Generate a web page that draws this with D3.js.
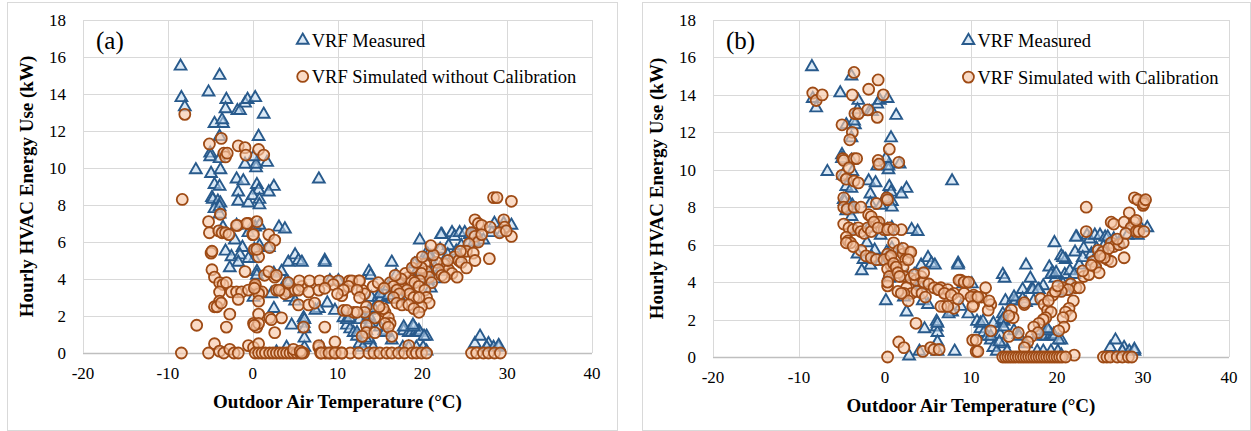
<!DOCTYPE html>
<html>
<head>
<meta charset="utf-8">
<script src="https://d3js.org/d3.v7.min.js"></script>
<style>
  body { margin: 0; background: #fff; }
</style>
</head>
<body>
<div id="chart"></div>
<script>
// axis ticks
const xTicks = [-20, -10, 0, 10, 20, 30, 40];
const yTicks = [0, 2, 4, 6, 8, 10, 12, 14, 16, 18];

// VRF measured (same in both panels): [outdoor temp °C, kW]
const measured = [
  [-8.5,15.5],[-3.9,15.0],[-8.4,13.8],[-8.0,13.3],[-5.2,14.1],[-3.1,13.7],[-3.2,13.2],[-1.8,13.1],[-1.5,13.1],[-0.9,13.5],
  [-0.6,13.7],[0.3,13.8],[1.3,12.9],[-4.5,12.4],[-3.5,12.4],[-3.6,12.6],[0.7,11.7],[-3.9,11.7],[-5.0,10.8],[-5.0,10.6],
  [-3.9,10.5],[-6.7,9.9],[-4.9,9.7],[-3.8,9.9],[-0.9,10.2],[0.4,10.0],[0.4,10.2],[1.7,10.3],[0.1,10.6],[-1.9,9.4],
  [-1.1,9.3],[-4.5,9.1],[-3.9,9.0],[0.5,9.1],[-1.7,8.7],[0.7,8.8],[2.5,9.0],[1.9,8.7],[-4.8,8.4],[-4.7,8.3],
  [-4.1,8.2],[-3.8,8.1],[-1.7,8.2],[-0.5,8.1],[0.0,8.5],[0.8,8.3],[0.8,8.0],[7.8,9.4],
  [-4.5,7.8],[-3.9,7.9],[-3.9,7.5],[-3.5,6.8],[-1.9,6.9],[-0.1,6.8],[0.3,6.8],[0.8,6.9],[3.1,6.8],[3.8,6.7],
  [-2.1,6.1],[-0.5,6.5],[-1.2,5.7],[0.8,5.8],[1.9,5.7],[-3.2,5.5],[-2.5,5.2],[-1.5,5.3],[0.2,5.6],[0.2,5.1],
  [-0.5,5.1],[-1.7,4.9],[-2.7,4.6],[0.5,4.4],[0.5,4.2],[4.2,4.9],[5.0,5.3],[5.4,5.0],[2.5,4.3],[3.4,4.4],
  [4.0,3.9],[4.2,3.8],[2.2,3.2],[0.1,3.0],[2.5,2.4],[4.6,1.5],[6.0,1.6],[6.1,1.3],[4.4,3.0],[5.0,2.8],
  [6.0,1.9],[6.1,0.3],[4.0,0.3],[8.1,0.3],[2.8,0.05],
  [5.8,4.9],[8.5,5.0],[8.5,4.9],[9.1,3.9],[10.1,3.9],[8.8,2.7],[7.8,2.4],[7.4,2.3],[9.7,2.3],[6.1,1.8],
  [6.1,0.8],[10.7,1.9],[11.1,1.5],[11.5,1.3],[11.9,1.1],[12.3,0.9],[12.6,0.5],[13.0,0.3],[13.7,4.4],[13.9,4.2],
  [14.0,3.0],[13.7,2.3],[13.4,1.8],[13.4,1.2],[13.8,0.7],[14.8,3.0],[15.1,3.0],[14.2,0.3],[16.4,4.9],[16.9,4.2],
  [16.0,3.6],[17.0,3.6],[17.3,3.0],[15.0,1.4],[15.5,1.2],[16.4,0.7],[17.8,1.2],[18.4,1.1],[18.7,1.1],[19.3,1.2],
  [19.6,1.2],[19.7,1.1],[20.5,0.9],[17.7,0.3],[18.4,0.3],[19.3,0.3],[20.1,0.3],[20.5,0.1],
  [19.7,6.1],[20.5,5.4],[21.0,5.2],[19.1,4.8],[19.5,4.5],[19.8,4.2],[20.9,4.4],[21.5,4.6],[22.3,6.4],[22.1,5.6],
  [22.6,4.9],[23.5,6.5],[23.8,6.3],[24.4,6.5],[25.0,6.5],[25.6,6.4],[25.9,6.4],[26.6,6.3],[27.2,6.1],[28.2,6.5],
  [28.5,7.0],[29.6,7.0],[30.5,6.9],[29.4,6.5],[27.8,0.5],[26.2,0.5],[26.8,0.9],[27.6,0.3],[28.4,0.3],[29.0,0.3],
  [23.1,5.8],[23.0,5.3],[24.0,5.5],[24.6,5.8],[25.4,5.9],[26.1,6.0],[24.2,5.1],[22.0,4.4],[21.5,4.0],[20.7,3.9],
  [21.0,3.5],[15.2,3.0],[16.4,2.9],[14.3,2.4],[12.6,1.8],[13.8,1.9],[11.1,1.8],[12.3,1.1],[17.8,1.4],[19.0,1.4],
  [18.4,3.8],[17.9,3.6],[15.0,3.2],[16.0,3.1],[17.2,3.6],[17.8,3.6],[13.7,2.0],[13.8,1.6],[15.6,1.1],[18.9,1.5],
  [20.2,0.9],[20.7,5.3],[22.2,6.4],[19.3,4.4],[19.9,4.5],[11.4,1.9],[13.3,0.8],[29.0,0.4]
];

// VRF simulated without calibration (panel a)
const simUncalibrated = [
  [-8.0,12.9],[-8.3,8.3],[-5.1,11.3],[-3.7,11.6],[-3.4,10.8],[-3.2,10.6],[-3.0,10.8],[-1.7,11.2],[-0.9,11.1],[-0.8,10.7],
  [0.7,11.0],[1.3,10.7],
  [-5.2,7.1],[-5.1,6.5],[-4.0,6.6],[-3.6,6.5],[-3.2,6.5],[-2.8,6.4],[-3.8,7.5],[-1.8,6.9],[-0.5,7.0],[0.5,7.1],
  [0.0,6.4],[1.9,6.4],[2.6,6.1],[2.0,5.7],[0.2,5.6],[0.7,5.2],[-4.9,5.4],[-4.8,4.5],[-4.5,4.1],[-3.9,3.8],
  [-3.5,3.7],[-3.1,3.8],[-0.9,4.4],[1.4,4.2],[2.6,4.1],
  [-3.9,3.3],[-2.5,3.3],[-1.9,3.3],[-1.3,3.3],[-0.5,3.4],[0.3,3.6],[0.7,3.3],[1.1,3.3],[0.3,3.7],[0.7,3.2],
  [2.8,3.4],[3.4,3.4],[4.2,3.3],[5.0,3.4],[5.8,3.6],[3.8,3.2],
  [-4.5,2.5],[-3.9,2.8],[-2.7,2.1],[-1.7,2.9],[0.7,2.1],[2.0,1.9],[3.4,1.9],[-6.6,1.5],[-3.1,1.4],[0.1,1.6],
  [0.5,1.4],[2.6,1.1],[-4.5,0.5],[-8.4,0.0],[-5.2,0.0],[-3.9,0.1],[-3.4,0.0],[-2.7,0.2],[-2.2,0.0],[-1.7,0.0],
  [-0.5,0.4],[0.1,0.3],[0.7,0.5],
  [0.3,0],[0.7,0],[1.1,0],[1.5,0],[2.0,0],[2.4,0],[2.8,0],[3.2,0],[3.6,0],[4.0,0],[4.4,0],[4.8,0],[5.2,0],
  [5.6,0],[6.0,0],[4.8,0.2],[5.6,0.1],[7.8,0.3],
  [-0.7,7.0],[-1.9,6.9],[0.1,6.4],[0.5,5.6],[-4.8,5.5],[1.9,4.4],[2.8,4.2],[4.2,3.8],[5.5,3.9],[6.7,3.9],
  [7.9,3.9],[9.0,3.9],[10.1,3.9],[11.4,3.9],[12.5,3.9],[3.1,3.4],[5.4,3.4],[6.6,3.3],[7.8,3.4],[0.2,3.5],
  [5.4,2.6],[6.6,2.6],[7.3,2.7],[10.5,3.1],[10.7,2.3],[11.9,2.2],[0.7,2.8],[0.7,1.6],[2.2,1.8],[6.0,1.4],
  [8.5,1.4],[0.2,1.5],[-4.2,2.5],[-3.7,2.7],[7.8,0.4],[9.7,0.6],[8.0,0],[8.6,0],[9.2,0],[9.8,0],[10.5,0],[11.5,0],
  [28.4,8.4],[28.8,8.4],[30.5,8.2],[26.2,7.2],[26.6,7.0],[27.0,6.9],[29.6,7.2],[29.7,6.8],[29.1,6.5],[30.5,6.3],
  [27.9,5.1],[25.8,6.5],[26.2,6.3],[26.6,6.0],[25.5,5.9],[25.2,5.5],[26.0,5.4],[26.2,5.0],[23.8,5.2],[24.3,5.0],
  [24.6,4.9],[25.2,4.6],[22.1,5.6],[22.6,4.8],[23.1,4.5],[23.5,4.3],[24.1,4.1],[21.7,4.9],[21.9,4.5],[22.3,4.2],
  [22.6,4.1],[20.3,4.8],[20.5,4.4],[20.8,4.1],[21.1,3.8],[19.9,4.6],[19.9,4.3],[19.7,3.9],[18.4,4.1],[18.7,3.9],
  [19.1,3.8],[19.6,3.6],[17.3,3.7],[17.8,3.5],[18.2,3.4],[18.5,3.2],[19.0,3.0],[20.3,3.4],[20.5,3.0],[20.8,2.7],
  [19.9,2.5],[19.6,3.0],[16.2,3.8],[16.6,3.6],[17.0,3.4],[17.3,3.2],[16.6,3.0],[17.0,2.7],[17.6,2.6],[18.4,2.6],
  [19.0,2.4],[19.6,2.2],[15.2,2.3],[15.6,2.2],[16.0,1.9],[16.2,1.6],[15.4,2.4],[14.9,2.5],[14.4,1.9],[13.4,2.5],
  [13.2,2.2],[12.9,3.4],[13.2,3.2],[11.7,3.9],[12.6,3.9],[11.3,3.6],[10.7,3.4],[12.3,3.4],[12.6,3.0],[12.3,2.2],
  [11.1,2.3],[13.4,1.5],[13.4,1.1],[15.6,1.6],[16.0,1.4],[12.9,0.9],[14.4,1.1],[16.4,0.9],[18.4,0.4],
  [18.0,4.3],[18.8,4.6],[17.5,4.0],[19.3,4.9],[20.0,5.2],[21.3,5.3],[16.8,4.2],[14.2,3.6],[14.8,3.8],[15.5,3.5],
  [9.5,3.7],[8.5,3.5],[10.0,3.2],[21.0,5.8],[23.0,5.0],[24.5,5.5],[27.0,6.4],[28.0,6.8],[29.9,6.6],
  [5.8,0],[8.1,0],[9.0,0],[9.7,0],[10.5,0],[12.5,0],[13.7,0],[14.3,0],[15.0,0],[15.8,0],[16.4,0],[17.2,0],
  [17.9,0],[18.8,0],[19.3,0],[19.9,0],[20.5,0],[25.8,0],[26.4,0],[27.2,0],[27.8,0],[28.5,0],[29.2,0]
];

// VRF simulated with calibration (panel b)
const simCalibrated = [
  [-8.4,14.1],[-8.0,13.7],[-7.3,14.0],[-3.6,15.2],[-3.8,14.0],[-1.9,14.3],[-0.8,14.8],[-0.2,14.0],[-3.5,13.0],[-3.1,13.0],
  [-2.0,13.2],[-0.9,12.8],[-5.0,12.4],[-3.8,12.0],[-4.1,11.6],[0.5,11.1],[-4.9,10.6],[-4.8,10.5],[-3.6,10.6],[-3.3,10.6],
  [-0.8,10.5],[-0.7,10.3],[1.6,10.4],[-5.0,9.7],[-4.5,9.5],[-4.2,10.1],[-3.6,9.4],[-3.1,9.3],[-4.8,8.5],[-4.8,8.0],
  [-4.4,7.9],[-3.6,8.0],[-2.8,8.0],[-1.0,8.2],[0.2,8.5],[0.3,8.4],[-1.9,7.6],
  [-4.8,7.1],[-4.2,6.9],[-3.7,6.8],[-3.1,6.9],[-2.8,6.7],[-2.4,6.6],[-2.0,6.9],[-1.6,6.7],[-1.0,7.2],[-0.7,7.2],
  [-4.5,6.4],[-4.3,6.2],[-4.0,6.1],[-2.8,5.7],[-2.2,5.4],[-1.6,5.3],[-1.0,5.2],[-4.5,6.1],[-3.7,5.9],[-0.1,6.8],
  [0.5,6.9],[1.9,6.8],[1.0,6.1],[1.6,5.7],[2.1,5.5],[2.8,5.6],[0.3,5.5],[0.5,5.3],[0.7,4.9],[1.0,4.6],
  [-0.1,5.2],[0.3,4.7],[0.5,4.3],[0.3,3.8],[2.4,5.2],[2.1,4.8],
  [2.2,4.3],[3.0,4.2],[3.6,4.1],[4.2,4.3],[4.5,4.0],[5.1,3.9],[5.7,3.7],[6.3,3.6],[6.9,3.4],[2.5,3.7],
  [3.1,3.4],[3.7,3.5],[4.3,3.4],[4.7,3.2],[2.2,3.4],[2.7,3.0],[1.5,3.5],[3.6,1.8],[1.6,0.8],[2.2,0.5],
  [0.3,0.0],[4.4,0.3],[5.3,0.5],[5.7,0.4],[6.3,0.4],
  [-1.6,7.5],[-1.3,7.2],[-0.8,6.9],[0.3,6.8],[1.0,6.8],[2.1,5.8],[3.0,5.6],[0.7,5.4],[1.0,5.0],[1.3,4.8],
  [1.5,4.5],[2.7,5.2],[0.3,4.0],[1.7,4.3],[1.9,3.4],[3.4,4.4],[4.5,4.5],[6.5,3.7],[7.3,3.6],[8.0,3.4],
  [9.2,3.4],[10.3,3.3],[11.2,3.2],[8.8,4.1],[9.4,4.0],[6.9,2.7],[8.0,2.6],[10.2,0.9],[10.6,0.3],
  [29.0,8.5],[30.1,8.3],[30.0,8.1],[23.4,8.0],[28.4,7.7],[26.3,7.2],[26.6,7.1],[27.8,7.2],[29.0,7.2],[28.6,6.9],
  [29.4,6.8],[23.4,6.7],[26.3,6.1],[26.6,5.9],[27.2,6.0],[27.7,6.1],[27.8,5.3],[24.8,5.7],[25.3,5.6],[25.9,5.2],
  [26.3,5.1],[25.5,5.3],[24.2,5.1],[24.5,4.8],[24.9,4.5],[23.1,4.3],[23.7,4.4],[21.6,3.9],[22.2,3.7],[22.6,3.7],
  [20.7,3.7],[21.3,3.6],[20.5,3.5],[21.9,3.0],[21.4,2.6],[21.0,2.4],[21.6,2.2],[20.7,2.1],[20.8,1.6],[20.2,1.4],
  [18.1,3.1],[18.5,2.8],[18.9,2.5],[19.3,2.4],[18.7,2.1],[18.4,2.0],[17.9,1.8],[17.3,1.6],[17.8,1.3],[17.0,1.1],
  [16.6,0.8],[16.2,0.5],[16.2,2.8],[14.7,2.5],[14.9,2.1],[11.7,3.7],[12.3,2.8],[12.0,2.5],[10.6,3.2],[10.3,2.8],
  [10.6,0.9],[10.8,0.3],[12.3,1.4],[14.4,1.1],[22.0,0.1],
  [29.4,8.4],[30.1,8.2],[30.3,8.4],[29.2,7.3],[29.2,6.7],[29.5,6.7],[30.1,6.7],[8.6,4.1],[9.2,4.0],[9.7,4.0],
  [6.2,3.6],[6.9,3.4],[7.7,3.3],[8.5,3.1],[10.0,3.2],[10.8,3.2],[6.5,2.7],[7.3,2.7],[10.2,2.7],[12.1,3.0],
  [14.4,2.2],[15.5,1.3],[16.2,2.9],
  [19.5,3.3],[19.8,3.5],[20.1,3.8],[19.0,3.0],[23.0,4.6],[24.0,4.9],[25.0,5.4],[26.0,5.8],[27.0,6.3],[28.0,6.6],
  [13.7,0],[14.0,0],[14.3,0],[14.6,0],[14.9,0],[15.2,0],[15.5,0],[15.8,0],[16.1,0],[16.4,0],[16.7,0],[17.0,0],
  [17.3,0],[17.6,0],[17.9,0],[18.2,0],[18.5,0],[18.8,0],[19.1,0],[19.4,0],[19.7,0],[20.0,0],[20.3,0],[20.6,0],
  [21.0,0],[25.4,0],[25.8,0],[26.2,0],[27.0,0],[27.6,0],[28.3,0],[28.7,0]
];

const panelLabels = ["(a)", "(b)"];
const seriesNames = ["VRF Measured", "VRF Simulated without Calibration", "VRF Simulated with Calibration"];

const W = 1251, H = 431;
const FONT = "'Liberation Serif', 'Times New Roman', 'DejaVu Serif', serif";
const triColor = { stroke: "#285A8C", fill: "rgba(189,215,238,0.55)" };
const cirColor = { stroke: "#9E4A14", fill: "rgba(248,200,168,0.65)" };
const grid = "#D9D9D9";

const svg = d3.select("#chart").append("svg")
  .attr("width", W).attr("height", H)
  .attr("font-family", FONT);

const tri = d3.symbol().type(d3.symbolTriangle).size(60);

function drawPanel(p) {
  const g = svg.append("g");

  // outer chart border
  g.append("rect")
    .attr("x", p.box[0] + 0.5).attr("y", p.box[1] + 0.5)
    .attr("width", p.box[2]).attr("height", p.box[3])
    .attr("fill", "#fff").attr("stroke", grid);

  const x = d3.scaleLinear().domain([-20, 40]).range([p.left, p.right]);
  const y = d3.scaleLinear().domain([0, 18]).range([p.bottom, p.top]);

  // gridlines
  g.append("g").selectAll("line").data(yTicks).join("line")
    .attr("x1", p.left).attr("x2", p.right)
    .attr("y1", d => Math.round(y(d)) + 0.5).attr("y2", d => Math.round(y(d)) + 0.5)
    .attr("stroke", d => d === 0 ? "#BFBFBF" : grid).attr("stroke-width", d => d === 0 ? 1.5 : 1);
  g.append("g").selectAll("line").data(xTicks).join("line")
    .attr("y1", p.top).attr("y2", p.bottom)
    .attr("x1", d => Math.round(x(d)) + 0.5).attr("x2", d => Math.round(x(d)) + 0.5)
    .attr("stroke", grid).attr("stroke-width", 1);

  // tick labels
  g.append("g").selectAll("text").data(yTicks).join("text")
    .attr("x", p.left - 17).attr("y", d => y(d))
    .attr("dy", "0.35em").attr("text-anchor", "end")
    .attr("font-family", FONT).style("font-size", "17px").text(d => d);
  g.append("g").selectAll("text").data(xTicks).join("text")
    .attr("x", d => x(d)).attr("y", p.bottom + 26)
    .attr("text-anchor", "middle")
    .attr("font-family", FONT).style("font-size", "17px").text(d => d);

  // axis titles
  g.append("text")
    .attr("x", (p.left + p.right) / 2).attr("y", p.bottom + 55)
    .attr("text-anchor", "middle")
    .attr("font-family", FONT).style("font-size", "19px").style("font-weight", "bold")
    .text("Outdoor Air Temperature (°C)");
  g.append("text")
    .attr("transform", `translate(${p.left - 50},${(p.top + p.bottom) / 2}) rotate(-90)`)
    .attr("text-anchor", "middle")
    .attr("font-family", FONT).style("font-size", "19px").style("font-weight", "bold")
    .text("Hourly HVAC Energy Use (kW)");

  // panel letter
  g.append("text")
    .attr("x", p.left + 13).attr("y", y(16.9)).attr("dy", "0.35em")
    .attr("font-family", FONT).style("font-size", "25px").text(p.label);

  // measured triangles
  g.append("g").selectAll("path").data(measured).join("path")
    .attr("d", tri)
    .attr("transform", d => `translate(${x(d[0])},${y(d[1])})`)
    .attr("fill", triColor.fill).attr("stroke", triColor.stroke).attr("stroke-width", 1.9);

  // simulated circles
  g.append("g").selectAll("circle").data(p.sim).join("circle")
    .attr("cx", d => x(d[0])).attr("cy", d => y(d[1])).attr("r", 5.5)
    .attr("fill", cirColor.fill).attr("stroke", cirColor.stroke).attr("stroke-width", 1.8);

  // legend
  const lx = x(p.legendX);
  const lg = g.append("g");
  lg.append("path").attr("d", tri)
    .attr("transform", `translate(${lx},${y(16.9)})`)
    .attr("fill", triColor.fill).attr("stroke", triColor.stroke).attr("stroke-width", 1.9);
  lg.append("text").attr("x", lx + 9).attr("y", y(16.9)).attr("dy", "0.35em")
    .attr("font-family", FONT).style("font-size", "18.5px").text(seriesNames[0]);
  lg.append("circle").attr("cx", lx).attr("cy", y(14.95)).attr("r", 5.5)
    .attr("fill", cirColor.fill).attr("stroke", cirColor.stroke).attr("stroke-width", 1.8);
  lg.append("text").attr("x", lx + 9).attr("y", y(14.95)).attr("dy", "0.35em")
    .attr("font-family", FONT).style("font-size", "18.5px").text(p.simName);
}

drawPanel({
  box: [7, 2, 610, 428], left: 83, right: 592, top: 20, bottom: 353,
  label: panelLabels[0], sim: simUncalibrated, simName: seriesNames[1], legendX: 5.9
});
drawPanel({
  box: [642, 2, 608, 428], left: 713, right: 1229, top: 20, bottom: 357,
  label: panelLabels[1], sim: simCalibrated, simName: seriesNames[2], legendX: 9.7
});
</script>
</body>
</html>
